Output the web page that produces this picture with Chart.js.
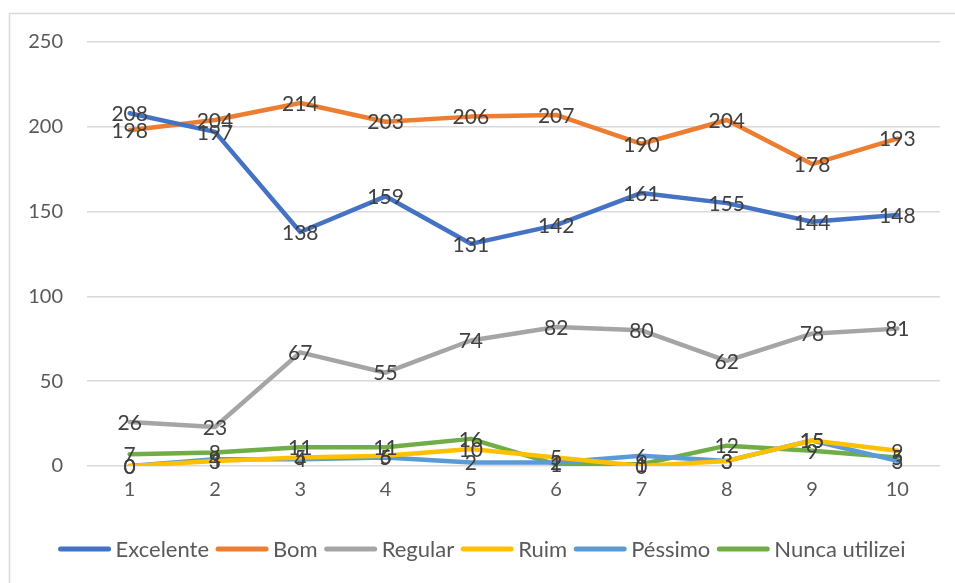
<!DOCTYPE html>
<html>
<head>
<meta charset="utf-8">
<script src="https://cdn.jsdelivr.net/npm/chart.js@4/dist/chart.umd.min.js"></script>
<style>
  html, body { margin: 0; padding: 0; background: #fff; }
  #wrap { width: 955px; height: 583px; position: relative; }
</style>
</head>
<body>
<div id="wrap"><canvas id="lineChart"></canvas></div>
<script>
// categories and series
var labels = ['1', '2', '3', '4', '5', '6', '7', '8', '9', '10'];
var excelente = [208, 197, 138, 159, 131, 142, 161, 155, 144, 148];
var bom = [198, 204, 214, 203, 206, 207, 190, 204, 178, 193];
var regular = [26, 23, 67, 55, 74, 82, 80, 62, 78, 81];
var ruim = [0, 3, 5, 6, 10, 5, 0, 3, 15, 9];
var pessimo = [0, 4, 4, 5, 2, 2, 6, 3, 15, 3];
var nunca = [7, 8, 11, 11, 16, 1, 1, 12, 9, 5];
var yTicks = [0, 50, 100, 150, 200, 250];

var fontFamily = 'Lato, "Open Sans", sans-serif';
var textColor = '#595959';

function serie(name, values, color) {
    return {
        label: name,
        data: values,
        borderColor: color,
        backgroundColor: color,
        borderWidth: 4.5,
        borderCapStyle: 'round',
        borderJoinStyle: 'round',
        pointRadius: 0,
        tension: 0,
        fill: false
    };
}

// frame, value labels and legend drawn by hand
var extras = {
    id: 'extras',
    beforeDraw: function (chart) {
        var ctx = chart.ctx;
        ctx.save();
        ctx.strokeStyle = '#d9d9d9';
        ctx.lineWidth = 1.5;
        ctx.beginPath();
        ctx.moveTo(9.5, 583);
        ctx.lineTo(9.5, 13.5);
        ctx.lineTo(955, 13.5);
        ctx.stroke();
        ctx.restore();
    },
    afterDatasetsDraw: function (chart) {
        var ctx = chart.ctx;
        ctx.save();
        ctx.font = '21px ' + fontFamily;
        ctx.fillStyle = '#404040';
        ctx.textAlign = 'center';
        ctx.textBaseline = 'middle';
        chart.data.datasets.forEach(function (ds, i) {
            chart.getDatasetMeta(i).data.forEach(function (pt, j) {
                ctx.fillText(String(ds.data[j]), pt.x, pt.y + 1);
            });
        });

        // legend
        ctx.font = '22px ' + fontFamily;
        ctx.textAlign = 'left';
        ctx.fillStyle = textColor;
        var lineLen = 54, gap = 4, sep = 6;
        var total = 0;
        chart.data.datasets.forEach(function (ds) {
            total += lineLen + gap + ctx.measureText(ds.label).width + sep;
        });
        total -= sep;
        var x = (chart.width - total) / 2 + 4;
        var y = 549;
        chart.data.datasets.forEach(function (ds) {
            ctx.strokeStyle = ds.borderColor;
            ctx.lineWidth = 5;
            ctx.lineCap = 'round';
            ctx.beginPath();
            ctx.moveTo(x + 3, y);
            ctx.lineTo(x + lineLen - 3, y);
            ctx.stroke();
            x += lineLen + gap;
            ctx.fillText(ds.label, x, y + 1);
            x += ctx.measureText(ds.label).width + sep;
        });
        ctx.restore();
    }
};

var myLineChart = new Chart(document.getElementById('lineChart'), {
    type: 'line',
    plugins: [extras],
    data: {
        labels: labels,
        datasets: [
            serie('Excelente', excelente, '#4472c4'),
            serie('Bom', bom, '#ed7d31'),
            serie('Regular', regular, '#a5a5a5'),
            serie('Ruim', ruim, '#ffc000'),
            serie('Péssimo', pessimo, '#5b9bd5'),
            serie('Nunca utilizei', nunca, '#70ad47')
        ]
    },
    options: {
        responsive: true,
        maintainAspectRatio: false,
        animation: false,
        layout: { padding: { top: 42, right: 15, bottom: 77, left: 0 } },
        plugins: {
            legend: { display: false },
            tooltip: { enabled: false }
        },
        scales: {
            x: {
                offset: true,
                grid: { display: false },
                border: { display: false },
                ticks: { color: textColor, font: { family: fontFamily, size: 20 }, padding: 4 },
                afterFit: function (s) { s.height = 40; }
            },
            y: {
                min: 0,
                max: 250,
                afterBuildTicks: function (s) {
                    s.ticks = yTicks.map(function (v) { return { value: v }; });
                },
                grid: { color: '#d9d9d9', lineWidth: 1.5, drawTicks: false },
                border: { display: false },
                ticks: { color: textColor, font: { family: fontFamily, size: 20 }, padding: 24 },
                afterFit: function (s) { s.width = 87; }
            }
        }
    }
});
</script>
</body>
</html>
